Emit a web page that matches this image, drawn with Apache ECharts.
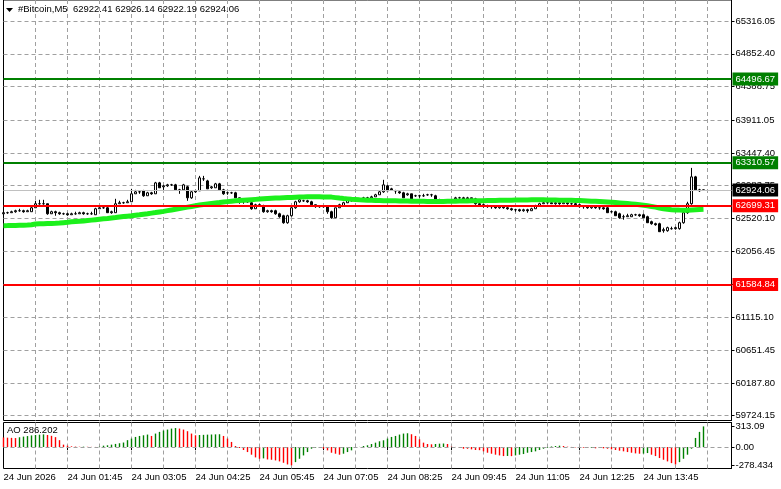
<!DOCTYPE html>
<html><head><meta charset="utf-8">
<script src="https://cdn.jsdelivr.net/npm/echarts@6/dist/echarts.min.js"></script>
<style>html,body{margin:0;padding:0;background:#fff}#c{width:781px;height:489px}</style>
</head><body><div id="c"></div>
<script>
const timeLabels = ['24 Jun 2026','24 Jun 01:45','24 Jun 03:05','24 Jun 04:25','24 Jun 05:45','24 Jun 07:05','24 Jun 08:25','24 Jun 09:45','24 Jun 11:05','24 Jun 12:25','24 Jun 13:45'];
const priceTicks = [65316.05,64852.40,64388.75,63911.05,63447.40,62983.75,62520.10,62056.45,61592.80,61115.10,60651.45,60187.80,59724.15];
const aoTicks = [313.09, 0, -278.434];
const aoTickLabels = ['313.09','0.00','-278.434'];
const greenLevels = [64496.67, 63310.57];
const redLevels = [62699.31, 61584.84];
const bidPrice = 62924.06;
const titleText = '#Bitcoin,M5  62922.41 62926.14 62922.19 62924.06';
const aoTitle = 'AO 286.202';

const opens = [62586,62601,62601,62615,62629,62629,62615,62615,62671,62728,
62728,62728,62586,62615,62601,62586,62586,62572,62586,62586,
62601,62586,62586,62572,62657,62671,62671,62601,62601,62728,
62742,62742,62756,62869,62897,62911,62841,62883,62869,63024,
62968,62982,62996,62996,62925,62925,62968,62812,62897,62911,
63081,63052,62954,62954,63010,62925,62883,62883,62883,62812,
62770,62756,62742,62657,62714,62700,62615,62629,62629,62586,
62558,62459,62558,62671,62756,62770,62770,62756,62714,62687,
62687,62687,62615,62530,62671,62700,62742,62784,62770,62770,
62784,62812,62812,62826,62855,62897,62982,62939,62911,62897,
62883,62855,62869,62841,62841,62841,62855,62855,62841,62784,
62770,62770,62770,62798,62812,62812,62798,62812,62798,62728,
62714,62700,62687,62687,62671,62687,62671,62657,62643,62643,
62629,62643,62629,62657,62700,62728,62742,62742,62728,62742,
62728,62742,62728,62728,62714,62687,62687,62671,62687,62671,
62671,62671,62615,62615,62586,62544,62544,62544,62572,62572,
62572,62544,62474,62445,62445,62346,62346,62375,62375,62375,
62459,62601,62728,63109,62925,62922.41];
const closes = [62601,62601,62615,62629,62629,62615,62629,62671,62728,62728,
62728,62586,62615,62601,62586,62586,62572,62586,62586,62601,
62586,62586,62586,62657,62671,62671,62601,62615,62728,62742,
62742,62756,62869,62897,62897,62841,62883,62869,63024,62954,
62982,62996,62996,62925,62925,62996,62812,62897,62911,63095,
63081,62939,62968,63010,62925,62869,62883,62883,62812,62770,
62756,62756,62657,62714,62700,62615,62629,62615,62586,62544,
62459,62558,62671,62756,62784,62770,62756,62714,62687,62687,
62687,62615,62530,62671,62714,62742,62798,62770,62770,62784,
62812,62812,62826,62855,62897,62996,62911,62925,62911,62883,
62812,62869,62798,62841,62841,62841,62855,62855,62770,62770,
62770,62770,62770,62812,62812,62798,62812,62798,62728,62714,
62700,62687,62687,62671,62687,62671,62657,62643,62643,62629,
62643,62629,62657,62700,62728,62742,62742,62728,62742,62728,
62742,62728,62728,62714,62687,62687,62671,62687,62671,62671,
62657,62601,62615,62558,62530,62544,62558,62572,62572,62558,
62530,62459,62445,62431,62332,62361,62389,62375,62389,62459,
62601,62728,63109,62925,62911,62924.06];
const lows = [62572,62586,62601,62601,62615,62601,62615,62615,62671,62714,
62714,62572,62586,62558,62572,62572,62558,62572,62572,62586,
62572,62572,62572,62572,62657,62657,62601,62586,62601,62728,
62728,62742,62756,62869,62869,62826,62841,62855,62869,62954,
62925,62968,62982,62911,62869,62925,62770,62798,62883,62911,
63052,62939,62939,62954,62911,62855,62855,62869,62812,62728,
62728,62742,62643,62657,62687,62601,62601,62601,62572,62530,
62445,62445,62544,62657,62742,62756,62742,62714,62671,62671,
62671,62586,62516,62530,62671,62700,62742,62756,62756,62770,
62784,62798,62812,62826,62855,62883,62911,62911,62869,62869,
62812,62841,62784,62826,62812,62826,62841,62826,62770,62756,
62756,62756,62756,62798,62798,62784,62784,62784,62714,62687,
62671,62671,62657,62657,62657,62657,62643,62629,62615,62615,
62615,62601,62629,62657,62700,62728,62728,62728,62714,62714,
62728,62714,62714,62700,62671,62657,62657,62657,62657,62643,
62643,62601,62601,62558,62516,62502,62544,62544,62558,62544,
62530,62459,62431,62417,62332,62318,62332,62361,62361,62361,
62445,62586,62714,62911,62897,62922.19];
const highs = [62615,62615,62629,62643,62657,62643,62643,62687,62770,62784,
62784,62728,62629,62629,62615,62601,62601,62601,62615,62615,
62615,62601,62615,62671,62700,62700,62687,62629,62798,62770,
62756,62784,62939,62925,62911,62925,62897,62897,63038,63038,
62996,63010,63010,63010,62939,63010,62982,62911,62925,63123,
63123,63067,62982,63024,63024,62939,62897,62897,62897,62812,
62770,62770,62756,62728,62728,62714,62643,62643,62643,62601,
62572,62572,62687,62770,62798,62784,62784,62770,62714,62700,
62700,62700,62629,62671,62728,62756,62812,62798,62784,62798,
62826,62826,62841,62869,62911,63067,62996,62954,62925,62911,
62897,62883,62869,62855,62855,62869,62869,62869,62855,62798,
62784,62784,62784,62826,62826,62826,62826,62812,62812,62742,
62728,62714,62700,62700,62700,62700,62687,62671,62657,62657,
62657,62657,62671,62714,62742,62756,62756,62756,62756,62756,
62756,62742,62742,62742,62728,62700,62700,62700,62700,62687,
62687,62687,62629,62629,62601,62572,62586,62586,62586,62586,
62586,62558,62488,62459,62459,62389,62403,62403,62403,62474,
62615,62756,63236,63123,62939,62926.14];
const maValues = [62417,62418,62420,62421,62423,62425,62427,62430,
62440,62443,62445,62447,62449,62451,62455,62460,62465,
62472,62476,62480,62484,62490,62496,
62502,62508,62514,62520,
62527,62533,62540,62546,
62552,62558,62565,62572,
62580,62587,62595,62603,
62612,62620,62630,62640,
62650,62660,62670,62680,
62690,62700,62710,62718,
62725,62732,62739,62745,
62752,62758,62764,62769,
62774,62778,62782,62786,
62790,62794,62798,62802,
62806,62809,62811,62813,62815,62817,
62820,62822,62824,62826,62827,62827,62826,62825,62824,62822,
62815,62808,62802,62797,62792,
62788,62784,62781,62778,62776,62774,62773,62772,62771,62770,62769,62768,62767,62766,62765,
62764,62763,62762,62761,62760,62760,62760,62761,62762,62763,
62765,62766,62767,62768,62769,62770,62771,62772,62773,62774,62775,62776,
62777,62778,62779,62780,62781,62782,62782,62783,62783,62783,62783,62782,62781,62780,62779,62778,62777,62776,62775,62773,62771,
62768,62765,62762,62759,62756,62752,
62748,62744,62740,62735,62730,62725,62720,62715,
62708,62700,62690,62680,
62668,62658,62650,62644,62640,62638,62637,62637,
62640,62643,62646,62649];
const aoValues = [145,142,139,136,148,158,166,176,182,187,
192,182,170,150,104,36,20,10,6,4,
5,3,2,1,4,20,26,36,47,57,
68,104,128,153,168,178,189,168,204,230,
250,265,280,288,280,265,240,204,178,182,
185,188,190,192,194,168,128,77,15,-15,
-46,-77,-117,-158,-179,-173,-189,-194,-204,-219,
-240,-265,-278.434,-230,-179,-128,-77,-26,-10,-5,
-26,-51,-87,-102,-117,-102,-77,-51,-15,2,
15,26,46,66,87,102,128,153,168,189,
204,209,194,168,117,66,46,41,46,51,
53,46,5,1,-10,-26,-27,-36,-46,-48,
-66,-87,-102,-117,-128,-138,-136,-139,-128,-117,
-107,-87,-77,-66,-46,-26,-10,8,15,20,
15,5,1,-5,-6,-10,-15,-13,-20,-15,
-20,-26,-36,-46,-56,-66,-77,-87,-97,-102,
-100,-92,-117,-138,-168,-194,-219,-245,-265,-230,
-179,-117,-26,138,230,313.09];

const SLOTS = 183;
const cats = Array.from({length: SLOTS}, (_, i) => String(i));
const FONT = 'Liberation Sans';
const FS = 9.5;
const GRID_C = '#a0a0a0';
const candleData = opens.map((o, i) => [o, closes[i], lows[i], highs[i]]);
const aoUp = aoValues.map((v, i) => (i > 0 && v >= aoValues[i - 1]) ? v : '-');
const aoDown = aoValues.map((v, i) => (i === 0 || v < aoValues[i - 1]) ? v : '-');

function lvl(v, color, width, bg) {
  return { yAxis: v, lineStyle: { color: color, width: width, type: 'solid' },
    label: { backgroundColor: bg, color: '#fff' } };
}
const levelLines = [
  ...greenLevels.map(v => lvl(v, '#008000', 2, '#008000')),
  ...redLevels.map(v => lvl(v, '#ff0000', 2, '#ff0000')),
  lvl(bidPrice, '#c0c0c0', 1, '#000000')
];

const chart = echarts.init(document.getElementById('c'), null, { renderer: 'canvas' });
const gridSplitX = {
  show: true,
  interval: (i) => i % 8 === 0 && i > 0,
  lineStyle: { color: GRID_C, type: [4, 3], width: 1 }
};
chart.setOption({
  animation: false,
  backgroundColor: '#ffffff',
  textStyle: { fontFamily: FONT },
  grid: [
    { left: 3.5, top: -1.5, width: 728, height: 422, show: true, borderColor: '#000', borderWidth: 1, backgroundColor: 'transparent' },
    { left: 3.5, top: 422.5, width: 728, height: 46, show: true, borderColor: '#000', borderWidth: 1, backgroundColor: 'transparent' }
  ],
  xAxis: [
    { type: 'category', gridIndex: 0, data: cats, boundaryGap: false,
      axisLine: { show: false }, axisTick: { show: false }, axisLabel: { show: false },
      splitLine: gridSplitX },
    { type: 'category', gridIndex: 1, data: cats, boundaryGap: false,
      axisLine: { show: false },
      axisTick: { show: true, length: 3, interval: (i) => i % 16 === 0 && i <= 160, lineStyle: { color: '#000' } },
      axisLabel: { show: true, interval: (i) => i % 16 === 0 && i <= 160,
        formatter: (v, i) => timeLabels[Math.round(Number(v) / 16)] || '',
        align: 'left', margin: 4, fontSize: FS, color: '#000', fontFamily: FONT },
      splitLine: gridSplitX }
  ],
  yAxis: [
    { type: 'value', gridIndex: 0, position: 'right', min: 59656.3, max: 65615.4, scale: true,
      axisLine: { show: true, lineStyle: { color: '#000' } },
      axisTick: { show: true, length: 3, customValues: priceTicks, lineStyle: { color: '#000' } },
      axisLabel: { show: true, customValues: priceTicks, formatter: (v) => Number(v).toFixed(2),
        margin: 4, fontSize: FS, color: '#000', fontFamily: FONT },
      splitLine: { show: true, lineStyle: { color: GRID_C, type: [4, 3], width: 1 } } },
    { type: 'value', gridIndex: 1, position: 'right', min: -326.8, max: 372.4,
      axisLine: { show: true, lineStyle: { color: '#000' } },
      axisTick: { show: true, length: 3, customValues: aoTicks, lineStyle: { color: '#000' } },
      axisLabel: { show: true, customValues: aoTicks,
        formatter: (v) => aoTickLabels[aoTicks.indexOf(Number(v))] || '',
        margin: 4, fontSize: FS, color: '#000', fontFamily: FONT },
      splitLine: { show: false } }
  ],
  series: [
    { type: 'candlestick', xAxisIndex: 0, yAxisIndex: 0, data: candleData, barWidth: 3, z: 2,
      itemStyle: { color: '#ffffff', color0: '#000000', borderColor: '#000000', borderColor0: '#000000', borderWidth: 1 },
      markLine: { silent: true, symbol: ['none', 'none'], z: 6, animation: false,
        label: { show: true, position: 'end', distance: 1, formatter: (p) => Number(p.value).toFixed(2),
          fontSize: FS, fontFamily: FONT, padding: [2, 3, 1, 3] },
        data: levelLines } },
    { type: 'line', xAxisIndex: 0, yAxisIndex: 0, data: maValues, symbol: 'none', z: 3,
      lineStyle: { color: '#1cf01c', width: 5 } },
    { type: 'bar', name: 'up', xAxisIndex: 1, yAxisIndex: 1, data: aoUp, barWidth: 1.4, barGap: '-100%', z: 2,
      itemStyle: { color: '#008000' },
      markLine: { silent: true, symbol: ['none', 'none'], animation: false, label: { show: false },
        lineStyle: { color: GRID_C, type: [4, 3], width: 1 }, data: [{ yAxis: 0 }] } },
    { type: 'bar', name: 'down', xAxisIndex: 1, yAxisIndex: 1, data: aoDown, barWidth: 1.4, barGap: '-100%', z: 2,
      itemStyle: { color: '#ff0000' } }
  ],
  graphic: [
    { type: 'polygon', shape: { points: [[6, 8], [13, 8], [9.5, 12]] }, style: { fill: '#000' }, z: 10 },
    { type: 'text', left: 18, top: 4, style: { text: titleText, fill: '#000', font: '9.5px "Liberation Sans"' }, z: 10 },
    { type: 'text', left: 7, top: 425, style: { text: aoTitle, fill: '#000', font: '9.5px "Liberation Sans"' }, z: 10 }
  ]
});
</script></body></html>
